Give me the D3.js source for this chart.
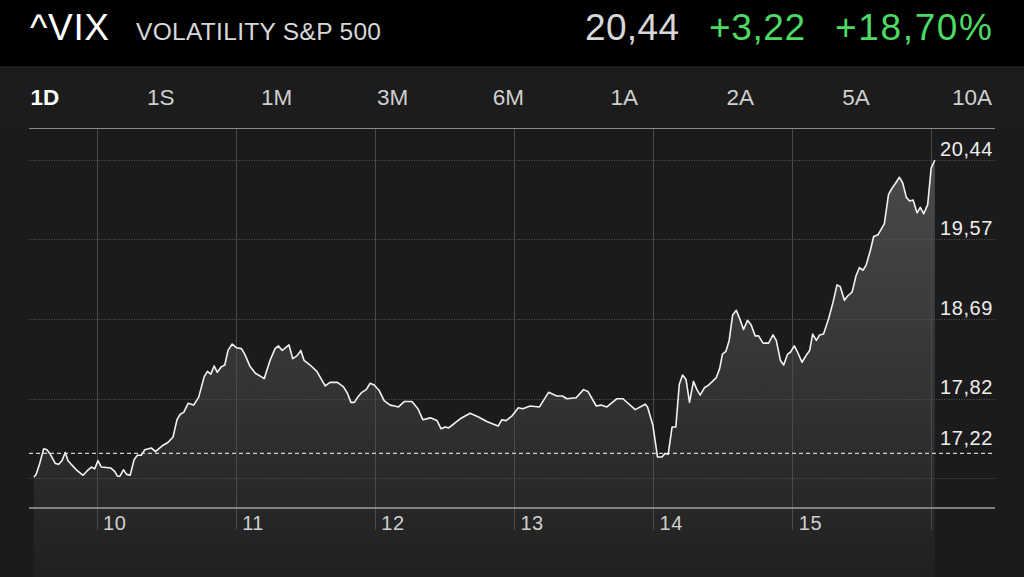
<!DOCTYPE html>
<html>
<head>
<meta charset="utf-8">
<script src="https://cdn.jsdelivr.net/npm/d3@7"></script>
<style>
  html, body { margin: 0; padding: 0; background: #1c1c1c; }
  svg { display: block; font-family: "Liberation Sans", Arial, Helvetica, sans-serif; }
</style>
</head>
<body>
<svg id="chart" width="1024" height="577"></svg>
<script>
// ---- Header / tabs ----
const symbol = "^VIX";
const title = "VOLATILITY S&P 500";
const lastPrice = "20,44";
const change = "+3,22";
const changePct = "+18,70%";
const ranges = ["1D", "1S", "1M", "3M", "6M", "1A", "2A", "5A", "10A"];

// ---- Axes ----
const yTickValues = [20.44, 19.57, 18.69, 17.82, 16.95];
const yTickLabels = ["20,44", "19,57", "18,69", "17,82", ""];
const prevClose = 17.22;
const prevCloseLabel = "17,22";
// minutes after the 9:30 open
const xTickValues = [30, 90, 150, 210, 270, 330, 390];
const xTickLabels = ["10", "11", "12", "13", "14", "15", ""];

// ---- Series: minutes after open, VIX value ----
const times = [
  3.0,4.0,5.5,7.2,8.6,10.1,12.2,13.7,15.1,16.5,
  17.7,19.1,21.3,24.2,26.0,27.8,29.2,30.6,32.1,36.1,
  37.9,39.0,40.1,41.6,43.0,44.5,46.2,47.6,49.3,50.8,
  53.6,55.4,57.3,58.7,60.8,63.0,64.7,66.1,67.6,69.5,
  71.9,74.1,76.4,77.8,79.3,80.7,82.1,83.8,85.3,86.7,
  88.5,90.3,92.5,93.9,96.1,98.5,100.5,102.3,104.8,107.0,
  108.4,110.1,113.0,114.6,116.4,118.1,119.5,122.1,125.0,128.6,
  130.7,133.9,136.5,138.2,139.7,141.2,142.7,144.4,146.3,148.0,
  149.7,151.9,154.0,156.6,158.5,160.2,162.8,166.0,168.6,170.7,
  173.9,176.8,178.6,180.3,181.8,183.9,186.8,191.1,194.7,198.3,
  201.2,203.2,204.8,206.6,209.1,211.9,213.8,217.0,221.0,224.9,
  228.5,230.9,232.8,236.8,240.0,241.9,245.5,247.5,250.1,254.4,
  257.0,262.3,266.6,267.6,269.9,271.9,273.8,275.2,276.5,278.2,
  279.8,281.3,282.7,284.2,285.7,287.4,288.9,290.3,292.1,293.9,
  295.6,297.2,298.7,299.9,301.4,302.8,304.3,305.9,307.6,309.0,
  310.7,312.3,314.0,315.5,317.4,319.8,321.7,323.1,324.9,326.3,
  328.0,329.2,330.9,332.3,334.2,336.1,337.5,338.8,340.4,341.8,
  343.5,345.7,347.6,349.3,350.7,352.5,354.0,355.8,357.5,359.0,
  360.5,361.9,363.7,365.1,367.0,369.7,371.5,373.0,374.4,376.2,
  377.6,379.2,380.6,382.1,383.8,385.2,386.7,388.4,389.9,391.5
];
const values = [
  16.96,16.99,17.11,17.27,17.26,17.21,17.11,17.10,17.14,17.23,
  17.14,17.10,17.04,16.98,17.03,17.07,17.05,17.14,17.07,17.06,
  17.02,16.97,16.97,17.04,16.99,16.98,17.15,17.20,17.20,17.26,
  17.28,17.24,17.28,17.31,17.34,17.40,17.59,17.65,17.67,17.77,
  17.75,17.84,18.06,18.12,18.09,18.18,18.11,18.17,18.19,18.35,
  18.42,18.38,18.37,18.31,18.18,18.10,18.07,18.04,18.24,18.37,
  18.40,18.35,18.41,18.26,18.29,18.35,18.24,18.19,18.12,17.96,
  18.00,18.00,17.95,17.88,17.78,17.78,17.84,17.89,17.92,17.99,
  17.97,17.91,17.80,17.75,17.74,17.73,17.79,17.79,17.71,17.59,
  17.61,17.58,17.49,17.51,17.50,17.54,17.60,17.66,17.62,17.57,
  17.54,17.52,17.59,17.58,17.63,17.72,17.71,17.74,17.73,17.89,
  17.85,17.85,17.82,17.83,17.92,17.90,17.74,17.75,17.73,17.82,
  17.82,17.70,17.76,17.73,17.53,17.18,17.18,17.22,17.21,17.51,
  17.51,17.98,18.08,18.03,17.78,18.01,17.92,17.86,17.94,17.97,
  18.01,18.05,18.15,18.31,18.34,18.46,18.74,18.79,18.68,18.58,
  18.68,18.63,18.51,18.51,18.43,18.43,18.52,18.46,18.24,18.19,
  18.31,18.33,18.40,18.33,18.22,18.30,18.35,18.53,18.46,18.52,
  18.53,18.70,18.88,19.07,19.05,18.90,18.95,18.99,19.17,19.26,
  19.23,19.29,19.45,19.60,19.62,19.74,20.06,20.13,20.18,20.25,
  20.19,20.03,19.99,20.00,19.86,19.92,19.85,19.95,20.35,20.44
];

const data = times.map((t, i) => ({ t, v: values[i] }));

const svg = d3.select("#chart");
const W = 1024, H = 577;

// backgrounds
svg.append("rect").attr("x", 0).attr("y", 0).attr("width", W).attr("height", H).attr("fill", "#1b1b1b");
svg.append("rect").attr("x", 0).attr("y", 0).attr("width", W).attr("height", 66).attr("fill", "#000");
svg.append("rect").attr("x", 0).attr("y", 66).attr("width", W).attr("height", 62).attr("fill", "#1c1c1c");

// header text
const hdr = svg.append("g");
hdr.append("text").attr("x", 30).attr("y", 40).attr("fill", "#fff").attr("font-size", 37)
  .attr("textLength", 79).attr("lengthAdjust", "spacing").text(symbol);
hdr.append("text").attr("x", 136).attr("y", 40).attr("fill", "#d8d8d8").attr("font-size", 24.5)
  .attr("textLength", 245).attr("lengthAdjust", "spacing").text(title);
hdr.append("text").attr("x", 585).attr("y", 40).attr("fill", "#d8d8d8").attr("font-size", 37)
  .attr("textLength", 94).attr("lengthAdjust", "spacing").text(lastPrice);
hdr.append("text").attr("x", 709).attr("y", 40).attr("fill", "#4cd964").attr("font-size", 37)
  .attr("textLength", 96).attr("lengthAdjust", "spacing").text(change);
hdr.append("text").attr("x", 835).attr("y", 40).attr("fill", "#4cd964").attr("font-size", 37)
  .attr("textLength", 157).attr("lengthAdjust", "spacing").text(changePct);

// range tabs
const tabCenters = d3.scalePoint().domain(ranges).range([45, 972]);
svg.append("g").selectAll("text").data(ranges).join("text")
  .attr("x", d => tabCenters(d))
  .attr("y", 105)
  .attr("text-anchor", "middle")
  .attr("font-size", 22.5)
  .attr("font-weight", (d, i) => i === 0 ? "bold" : "normal")
  .attr("fill", (d, i) => i === 0 ? "#fff" : "#cfcfcf")
  .text(d => d);

// scales
const x = d3.scaleLinear().domain([0, 390]).range([26.95, 931.4]);
const y = d3.scaleLinear().domain([16.95, 20.44]).range([478, 160]);

// gradient for area
const defs = svg.append("defs");
const grad = defs.append("linearGradient").attr("id", "areaGrad")
  .attr("gradientUnits", "userSpaceOnUse").attr("x1", 0).attr("y1", 160).attr("x2", 0).attr("y2", 577);
grad.append("stop").attr("offset", "0%").attr("stop-color", "#4a4a4a");
grad.append("stop").attr("offset", "100%").attr("stop-color", "#202020");

// area under line extending to bottom
const area = d3.area().x(d => x(d.t)).y0(H).y1(d => y(d.v));
svg.append("path").datum(data).attr("d", area).attr("fill", "url(#areaGrad)");

// top separator line
svg.append("line").attr("x1", 29).attr("x2", 995).attr("y1", 128.5).attr("y2", 128.5)
  .attr("stroke", "#8a8a8a").attr("stroke-width", 1);

// vertical grid lines
svg.append("g").selectAll("line").data(xTickValues).join("line")
  .attr("x1", d => Math.round(x(d)) + 0.5).attr("x2", d => Math.round(x(d)) + 0.5)
  .attr("y1", 129).attr("y2", 530)
  .attr("stroke", "#4a4a4a").attr("stroke-width", 1);

// horizontal dotted grid lines
svg.append("g").selectAll("line").data(yTickValues).join("line")
  .attr("x1", 29).attr("x2", 995)
  .attr("y1", d => Math.round(y(d)) + 0.5).attr("y2", d => Math.round(y(d)) + 0.5)
  .attr("stroke", "#555").attr("stroke-width", 1).attr("stroke-dasharray", "1,1.5");

// previous close dashed line
svg.append("line").attr("x1", 29).attr("x2", 995)
  .attr("y1", y(prevClose)).attr("y2", y(prevClose))
  .attr("stroke", "#d0d0d0").attr("stroke-width", 1.2).attr("stroke-dasharray", "4,3");

// bottom axis
const xAxis = d3.axisBottom(x).tickValues(xTickValues).tickFormat((d, i) => xTickLabels[i]).tickSize(0);
const gx = svg.append("g").attr("transform", "translate(0,508)").call(xAxis);
gx.select(".domain").remove();
gx.selectAll("text").attr("fill", "#cfcfcf").attr("font-size", 20).attr("text-anchor", "start")
  .attr("dx", 6).attr("dy", 0).attr("y", 22).attr("letter-spacing", 0.5)
  .style("font-family", "'Liberation Sans', Arial, sans-serif");
svg.append("line").attr("x1", 29).attr("x2", 995).attr("y1", 508).attr("y2", 508)
  .attr("stroke", "#a0a0a0").attr("stroke-width", 1.5);

// right axis labels
const yAxis = d3.axisRight(y).tickValues(yTickValues).tickFormat((d, i) => yTickLabels[i]).tickSize(0);
const gy = svg.append("g").attr("transform", "translate(993,0)").call(yAxis);
gy.select(".domain").remove();
gy.selectAll("text").attr("fill", "#eeeeee").attr("font-size", 20).attr("text-anchor", "end")
  .attr("x", 0).attr("dy", -5).attr("letter-spacing", 0.6)
  .style("font-family", "'Liberation Sans', Arial, sans-serif");
svg.append("text").attr("x", 993).attr("y", y(prevClose) - 8).attr("text-anchor", "end")
  .attr("fill", "#eeeeee").attr("font-size", 20).attr("letter-spacing", 0.6).text(prevCloseLabel);

// price line
const line = d3.line().x(d => x(d.t)).y(d => y(d.v));
svg.append("path").datum(data).attr("d", line).attr("fill", "none")
  .attr("stroke", "#f2f2f2").attr("stroke-width", 1.6).attr("stroke-linejoin", "round");
</script>
</body>
</html>
